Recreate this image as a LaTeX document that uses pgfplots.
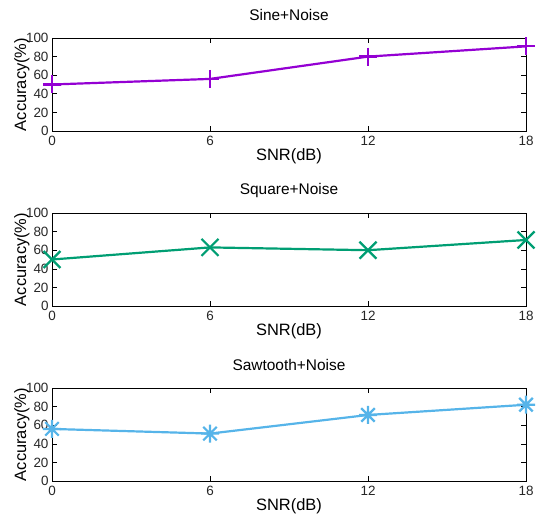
\documentclass[border=0pt]{standalone}
\usepackage{pgfplots}
\pgfplotsset{compat=1.18}
\usepackage{fontspec}
\setmainfont{Liberation Sans}
\definecolor{cSine}{HTML}{9400D3}
\definecolor{cSquare}{HTML}{009E73}
\definecolor{cSaw}{HTML}{56B4E9}
% gnuplot-like asterisk: plus and cross together
\pgfdeclareplotmark{star8}{%
  \pgfpathmoveto{\pgfqpoint{-\pgfplotmarksize}{0pt}}\pgfpathlineto{\pgfqpoint{\pgfplotmarksize}{0pt}}%
  \pgfpathmoveto{\pgfqpoint{0pt}{-\pgfplotmarksize}}\pgfpathlineto{\pgfqpoint{0pt}{\pgfplotmarksize}}%
  \pgfpathmoveto{\pgfqpoint{-.75\pgfplotmarksize}{-.75\pgfplotmarksize}}\pgfpathlineto{\pgfqpoint{.75\pgfplotmarksize}{.75\pgfplotmarksize}}%
  \pgfpathmoveto{\pgfqpoint{-.75\pgfplotmarksize}{.75\pgfplotmarksize}}\pgfpathlineto{\pgfqpoint{.75\pgfplotmarksize}{-.75\pgfplotmarksize}}%
  \pgfusepathqstroke}
\pgfplotsset{
  snrplot/.style={
    scale only axis,
    width=474bp, height=93bp,
    xmin=0, xmax=18, ymin=0, ymax=100,
    xtick={0,6,12,18}, ytick={0,20,40,60,80,100},
    tick align=inside,
    major tick length=5bp,
    tick style={black, line width=0.6bp},
    axis line style={line width=0.8bp},
    /pgf/number format/assume math mode=true,
    ticklabel style={font=\fontsize{13.5}{15}\selectfont, text=black!85},
    xticklabel style={yshift=-2bp},
    label style={font=\fontsize{16.5}{18}\selectfont},
    title style={font=\fontsize{15.5}{17}\selectfont, at={(axis description cs:0.5,1)}, anchor=center, yshift=17bp},
    xlabel={SNR(dB)},
    ylabel={Accuracy(\%)},
    xlabel style={at={(axis description cs:0.5,0)}, anchor=center, yshift=-25bp},
    ylabel style={at={(axis description cs:-0.0633,0.5)}, anchor=center},
    clip=false,
  },
}
\begin{document}
\begin{tikzpicture}
\useasboundingbox (-52bp,-384bp) rectangle (489bp,131bp);
\begin{axis}[snrplot, at={(0,0)}, anchor=south west, title={Sine+Noise}]
\addplot[cSine, line width=2.2bp, mark=+, mark size=9bp] coordinates {(0,50) (6,56) (12,80) (18,91)};
\end{axis}
\begin{axis}[snrplot, at={(0,-175bp)}, anchor=south west, title={Square+Noise}]
\addplot[cSquare, line width=2.2bp, mark=x, mark size=12bp] coordinates {(0,50) (6,63) (12,60) (18,71)};
\end{axis}
\begin{axis}[snrplot, at={(0,-350bp)}, anchor=south west, title={Sawtooth+Noise}]
\addplot[cSaw, line width=2.2bp, mark=star8, mark size=9bp] coordinates {(0,56) (6,51) (12,71) (18,82)};
\end{axis}
\end{tikzpicture}
\end{document}
